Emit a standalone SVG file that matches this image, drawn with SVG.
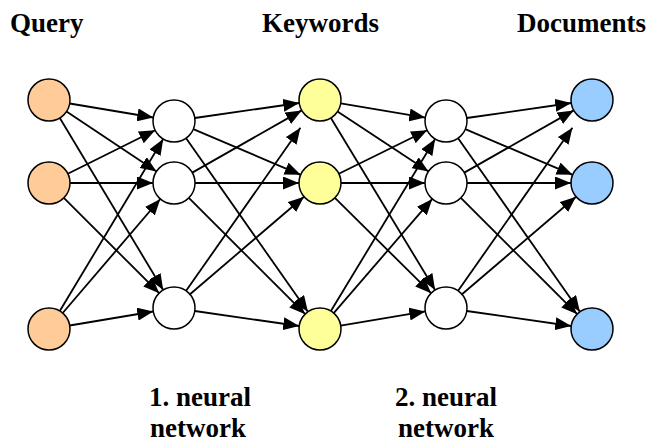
<svg xmlns="http://www.w3.org/2000/svg" width="652" height="443" viewBox="0 0 652 443">
<style>
.n{stroke:#000;stroke-width:1.5}
.q{fill:#FFCC99}.h{fill:#FFFFFF}.k{fill:#FFFF99}.d{fill:#99CCFF}
.e line{stroke:#000;stroke-width:1.8;marker-end:url(#ah)}
text{font-family:"Liberation Serif","Times New Roman",serif;font-weight:bold;font-size:27px;fill:#000}
</style>
<defs>
<marker id="ah" markerUnits="userSpaceOnUse" markerWidth="17" markerHeight="13" refX="16" refY="6.5" orient="auto"><path d="M0,0 L16,6.5 L0,13 z" fill="#000"/></marker>
</defs>
<g id="connectors" class="e">
<line x1="69.7" y1="103.5" x2="153.3" y2="117.5"/>
<line x1="66.5" y1="111.6" x2="156.5" y2="171.4"/>
<line x1="59.8" y1="118.0" x2="163.2" y2="290.0"/>
<line x1="67.8" y1="173.7" x2="155.2" y2="130.3"/>
<line x1="70" y1="183" x2="153" y2="183"/>
<line x1="63.8" y1="197.8" x2="159.2" y2="293.2"/>
<line x1="59.8" y1="311.0" x2="163.2" y2="139.0"/>
<line x1="62.7" y1="313.0" x2="160.3" y2="199.0"/>
<line x1="69.7" y1="325.5" x2="153.3" y2="311.5"/>
<line x1="194.8" y1="118.0" x2="299.2" y2="103.0"/>
<line x1="193.3" y1="129.2" x2="300.7" y2="174.8"/>
<line x1="186.1" y1="138.2" x2="307.9" y2="311.8"/>
<line x1="192.3" y1="172.6" x2="301.7" y2="110.4"/>
<line x1="195" y1="183" x2="299" y2="183"/>
<line x1="188.8" y1="197.8" x2="305.2" y2="314.2"/>
<line x1="186.1" y1="290.8" x2="300.4" y2="127.8"/>
<line x1="190.0" y1="294.3" x2="304.0" y2="196.7"/>
<line x1="194.8" y1="311.0" x2="299.2" y2="326.0"/>
<line x1="340.7" y1="103.4" x2="425.3" y2="117.6"/>
<line x1="337.5" y1="111.6" x2="428.5" y2="171.5"/>
<line x1="330.9" y1="118.0" x2="435.1" y2="290.0"/>
<line x1="338.8" y1="173.7" x2="427.2" y2="130.3"/>
<line x1="341" y1="183" x2="425" y2="183"/>
<line x1="334.9" y1="197.8" x2="431.1" y2="293.2"/>
<line x1="330.9" y1="311.0" x2="435.1" y2="139.0"/>
<line x1="333.7" y1="313.1" x2="432.3" y2="198.9"/>
<line x1="340.7" y1="325.6" x2="425.3" y2="311.4"/>
<line x1="466.8" y1="118.0" x2="571.2" y2="103.0"/>
<line x1="465.3" y1="129.2" x2="572.7" y2="174.8"/>
<line x1="458.1" y1="138.2" x2="579.9" y2="311.8"/>
<line x1="464.3" y1="172.6" x2="573.7" y2="110.4"/>
<line x1="467" y1="183" x2="571" y2="183"/>
<line x1="460.8" y1="197.8" x2="577.2" y2="314.2"/>
<line x1="458.1" y1="290.8" x2="572.4" y2="127.8"/>
<line x1="462.0" y1="294.3" x2="576.0" y2="196.7"/>
<line x1="466.8" y1="311.0" x2="571.2" y2="326.0"/>
</g>
<g id="query1"><circle class="n q" cx="49" cy="100" r="21"/></g>
<g id="query2"><circle class="n q" cx="49" cy="183" r="21"/></g>
<g id="query3"><circle class="n q" cx="49" cy="329" r="21"/></g>
<g id="hidden1a"><circle class="n h" cx="174" cy="121" r="21"/></g>
<g id="hidden1b"><circle class="n h" cx="174" cy="183" r="21"/></g>
<g id="hidden1c"><circle class="n h" cx="174" cy="308" r="21"/></g>
<g id="keyword1"><circle class="n k" cx="320" cy="100" r="21"/></g>
<g id="keyword2"><circle class="n k" cx="320" cy="183" r="21"/></g>
<g id="keyword3"><circle class="n k" cx="320" cy="329" r="21"/></g>
<g id="hidden2a"><circle class="n h" cx="446" cy="121" r="21"/></g>
<g id="hidden2b"><circle class="n h" cx="446" cy="183" r="21"/></g>
<g id="hidden2c"><circle class="n h" cx="446" cy="308" r="21"/></g>
<g id="doc1"><circle class="n d" cx="592" cy="100" r="21"/></g>
<g id="doc2"><circle class="n d" cx="592" cy="183" r="21"/></g>
<g id="doc3"><circle class="n d" cx="592" cy="329" r="21"/></g>
<g id="labels">
<text x="10" y="32">Query</text>
<text x="262" y="32">Keywords</text>
<text x="517" y="32">Documents</text>
<text x="200" y="406" text-anchor="middle">1. neural</text>
<text x="198" y="437" text-anchor="middle">network</text>
<text x="446" y="406" text-anchor="middle">2. neural</text>
<text x="446" y="437" text-anchor="middle">network</text>
</g>
</svg>
